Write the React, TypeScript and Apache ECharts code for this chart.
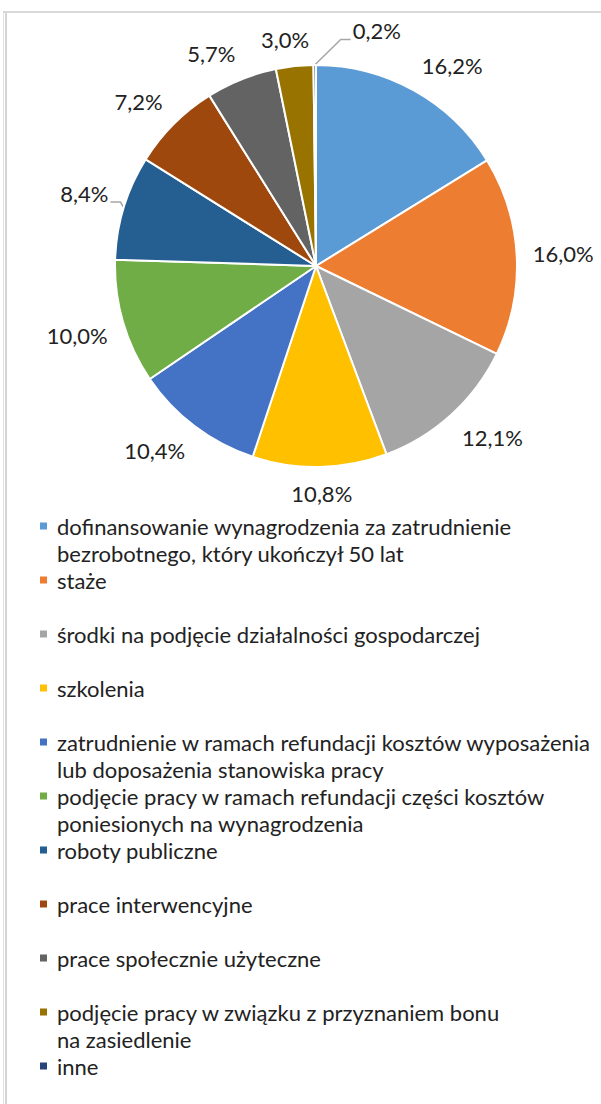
import React, { useEffect, useRef } from 'react';
import * as echarts from 'echarts';

const categories = [
  'dofinansowanie wynagrodzenia za zatrudnienie\nbezrobotnego, który ukończył 50 lat',
  'staże',
  'środki na podjęcie działalności gospodarczej',
  'szkolenia',
  'zatrudnienie w ramach refundacji kosztów wyposażenia\nlub doposażenia stanowiska pracy',
  'podjęcie pracy w ramach refundacji części kosztów\nponiesionych na wynagrodzenia',
  'roboty publiczne',
  'prace interwencyjne',
  'prace społecznie użyteczne',
  'podjęcie pracy w związku z przyznaniem bonu\nna zasiedlenie',
  'inne',
];
const shares = [16.2, 16.0, 12.1, 10.8, 10.4, 10.0, 8.4, 7.2, 5.7, 3.0, 0.2];
const colors = ['#5B9BD5', '#ED7D31', '#A5A5A5', '#FFC000', '#4472C4', '#70AD47', '#255E91', '#9E480E', '#636363', '#997300', '#264478'];
const leaderLabels = new Set(['roboty publiczne']);

const FONT = 'Lato, "Open Sans", sans-serif';
const TEXT_COLOR = '#222222';
const CX = 316;
const CY = 266;
const R = 201;
const GAP = 16;

const fmt = (v: number) => v.toFixed(1).replace('.', ',') + '%';

const total = shares.reduce((a, b) => a + b, 0);
const midAngles: number[] = [];
{
  let acc = 0;
  shares.forEach((v) => {
    midAngles.push(((acc + v / 2) / total) * Math.PI * 2);
    acc += v;
  });
}

const clamp = (v: number) => Math.max(-1, Math.min(1, v));
function anchor(th: number, w: number, h: number, extra: number) {
  const ux = Math.sin(th);
  const uy = -Math.cos(th);
  const d = R + GAP + extra;
  return {
    x: CX + d * ux + (w / 2) * clamp(3 * ux),
    y: CY + d * uy + (h / 2) * clamp(3 * uy),
  };
}

type Box = { x: number; y: number; w: number; h: number };
let placed: Box[] = [];
function hits(b: Box, padX: number) {
  return placed.some(
    (o) => Math.abs(o.x - b.x) < (o.w + b.w) / 2 + padX && Math.abs(o.y - b.y) < (o.h + b.h) / 2 + 2
  );
}

const layoutFn = (p: any) => {
  const i = p.dataIndex;
  if (i === 0) placed = [];
  const w = p.labelRect.width;
  const h = Math.min(p.labelRect.height, 22);
  const base = midAngles[i];
  let th = base;
  let pos = anchor(th, w, h, 0);
  let moved = false;
  if (hits({ ...pos, w, h }, 2)) {
    moved = true;
    for (let k = 0; k < 120; k++) {
      th += Math.PI / 180;
      pos = anchor(th, w, h, 12);
      if (!hits({ ...pos, w, h }, 40)) break;
    }
  }
  placed.push({ ...pos, w, h });
  const res: any = { x: pos.x, y: pos.y, align: 'center', verticalAlign: 'middle' };
  if (moved || leaderLabels.has(categories[i])) {
    const p0 = [CX + R * Math.sin(base), CY - R * Math.cos(base)];
    const right = pos.x > p0[0];
    const ly = pos.y + h * 0.4;
    const p2 = [right ? pos.x - w / 2 - 2 : pos.x + w / 2 + 2, ly];
    const p1 = [right ? p2[0] - 10 : p2[0] + 10, ly];
    res.labelLinePoints = [p0, p1, p2];
  }
  return res;
};

// legend icon: a 7x7 square level with the first text line, inside a 7x54 icon box
const LINE_H = 27;
const ICON_H = LINE_H * 2;
const SQ = 7;
const sqTop = LINE_H / 2 - SQ / 2;
const legendIcon = `path://M0,0h0.01v0.01h-0.01z M0,${sqTop}h${SQ}v${SQ}h-${SQ}z M0,${ICON_H - 0.01}h0.01v0.01h-0.01z`;

const option: any = {
  animation: false,
  backgroundColor: '#ffffff',
  graphic: [
    { type: 'line', shape: { x1: 3.5, y1: 11, x2: 3.5, y2: 1104 }, style: { stroke: '#e3e3e3', lineWidth: 1 }, silent: true },
    { type: 'line', shape: { x1: 6, y1: 12, x2: 6, y2: 1104 }, style: { stroke: '#d4d4d4', lineWidth: 2 }, silent: true },
    { type: 'line', shape: { x1: 3, y1: 12, x2: 601, y2: 12 }, style: { stroke: '#d9d9d9', lineWidth: 2 }, silent: true },
  ],
  legend: {
    orient: 'vertical',
    left: 40,
    top: 512.5,
    height: 720,
    padding: 0,
    itemGap: 0,
    itemWidth: SQ,
    itemHeight: ICON_H,
    icon: legendIcon,
    itemStyle: { borderWidth: 0 },
    selectedMode: false,
    formatter: (name: string) => (name.includes('\n') ? name : name + '\n'),
    data: categories,
    textStyle: { fontSize: 22, lineHeight: LINE_H, color: TEXT_COLOR, fontFamily: FONT, padding: [0, 0, 0, 5] },
  },
  series: [
    {
      type: 'pie',
      center: [CX, CY],
      radius: R,
      startAngle: 90,
      clockwise: true,
      avoidLabelOverlap: false,
      silent: true,
      itemStyle: { borderColor: '#ffffff', borderWidth: 2 },
      label: {
        show: true,
        position: 'outside',
        formatter: (p: any) => fmt(p.value),
        fontSize: 22,
        color: TEXT_COLOR,
        fontFamily: FONT,
      },
      labelLine: { show: false, length: 10, length2: 0, lineStyle: { color: '#a6a6a6', width: 1.5 } },
      labelLayout: layoutFn,
      data: categories.map((name, i) => ({
        name,
        value: shares[i],
        itemStyle: { color: colors[i] },
        labelLine: { show: leaderLabels.has(name) || shares[i] < 1 },
      })),
    },
  ],
};

export default function App() {
  const ref = useRef<HTMLDivElement>(null);
  useEffect(() => {
    const chart = echarts.init(ref.current!, null, { renderer: 'svg' });
    chart.setOption(option);
    return () => chart.dispose();
  }, []);
  return (
    <div
      ref={ref}
      style={{ position: 'absolute', left: 0, top: 0, width: 601, height: 1104, background: '#fff' }}
    />
  );
}
